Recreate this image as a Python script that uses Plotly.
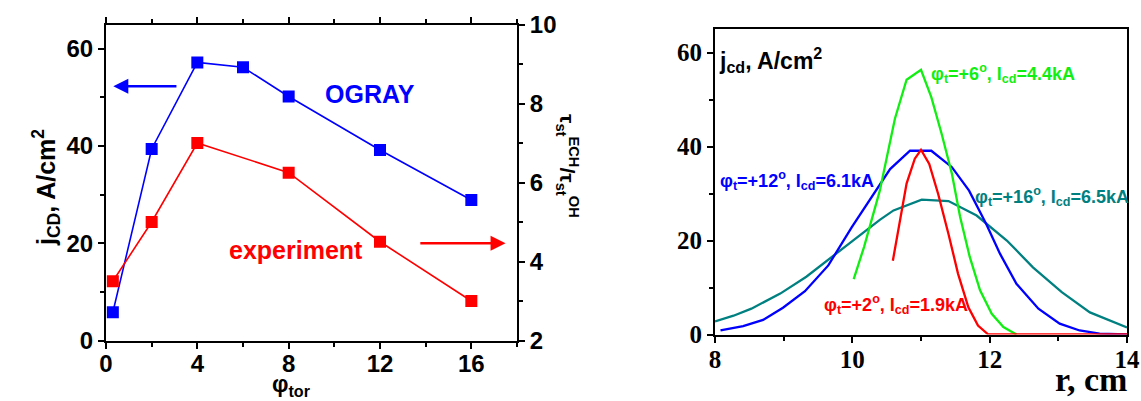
import plotly.graph_objects as go

# ---- left panel data ----
phi_ogray = [0.3, 2, 4, 6, 8, 12, 16]
j_ogray = [5.8, 39.4, 57.2, 56.2, 50.2, 39.2, 28.9]
phi_exp = [0.3, 2, 4, 8, 12, 16]
tau_exp = [3.5, 5.0, 7.0, 6.25, 4.5, 3.0]

# ---- right panel data ----
r_blue = [8.08, 8.41, 8.70, 8.99, 9.31, 9.65, 9.99, 10.26, 10.55, 10.84, 11.15, 11.45, 11.70, 11.95, 12.15, 12.39, 12.71, 13.02, 13.31, 13.60, 13.85, 14.0]
j_blue = [0.9, 1.8, 3.1, 5.7, 9.2, 14.7, 22.8, 28.9, 35.2, 39.1, 39.1, 35.6, 30.6, 23.5, 17.2, 10.8, 5.5, 2.3, 0.85, 0.2, 0.0, 0.0]
r_teal = [8.0, 8.27, 8.53, 8.95, 9.33, 9.70, 10.06, 10.40, 10.60, 11.01, 11.40, 11.81, 12.25, 12.63, 13.05, 13.46, 14.0]
j_teal = [2.8, 4.0, 5.5, 8.7, 12.3, 16.5, 20.7, 24.4, 26.4, 28.7, 28.4, 25.3, 20.0, 14.3, 9.0, 4.7, 1.5]
r_green = [10.02, 10.17, 10.40, 10.62, 10.79, 11.00, 11.15, 11.30, 11.45, 11.57, 11.71, 11.86, 12.03, 12.20, 12.39]
j_green = [11.8, 18.6, 30.6, 45.9, 54.2, 56.3, 50.5, 42.7, 34.2, 25.0, 16.5, 9.4, 4.4, 1.6, 0.0]
r_red = [10.59, 10.79, 10.91, 11.00, 11.12, 11.25, 11.40, 11.54, 11.69, 11.83, 11.98, 14.0]
j_red = [15.7, 32.1, 37.4, 39.3, 36.3, 29.9, 21.4, 12.9, 5.8, 1.9, 0.0, 0.0]

# ---- tick labels ----
r_ticks = [8, 10, 12, 14]
r_ticklabels = ["8", "10", "12", "14"]
j_ticks = [0, 20, 40, 60]
j_ticklabels = ["0", "20", "40", "60"]

BLUE = "#0000FF"
RED = "#FF0000"
GREEN = "#11EE11"
TEAL = "#008080"
SANS = "Arial, Liberation Sans, sans-serif"
SERIF = "Liberation Serif, Times New Roman, serif"

W, H = 1141, 401
def px_x(p):
    return p / W
def px_y(p):
    return 1 - p / H

fig = go.Figure()

fig.add_trace(go.Scatter(x=phi_ogray, y=j_ogray, mode="lines+markers",
                         line=dict(color=BLUE, width=1.6),
                         marker=dict(symbol="square", size=12, color=BLUE),
                         xaxis="x", yaxis="y", showlegend=False))
fig.add_trace(go.Scatter(x=phi_exp, y=tau_exp, mode="lines+markers",
                         line=dict(color=RED, width=1.6),
                         marker=dict(symbol="square", size=12, color=RED),
                         xaxis="x", yaxis="y2", showlegend=False))

for rr, jj, col in [(r_teal, j_teal, TEAL), (r_blue, j_blue, BLUE),
                    (r_green, j_green, GREEN), (r_red, j_red, RED)]:
    fig.add_trace(go.Scatter(x=rr, y=jj, mode="lines",
                             line=dict(color=col, width=2.3),
                             xaxis="x3", yaxis="y3", showlegend=False))

tickfont_sans = dict(family=SANS, size=24, color="black", weight="bold")
tickfont_serif = dict(family=SERIF, size=25, color="black", weight="bold")
common = dict(showgrid=False, zeroline=False, showline=True, linecolor="black",
              linewidth=2, ticks="outside", ticklen=6, tickwidth=2, tickcolor="black",
              automargin=False)
minor_style = dict(ticks="outside", ticklen=4, tickcolor="black", tickwidth=2)

fig.update_layout(
    width=W, height=H,
    margin=dict(l=0, r=0, t=0, b=0, autoexpand=False),
    paper_bgcolor="white", plot_bgcolor="white",
    xaxis=dict(domain=[px_x(106), px_x(517)], range=[0, 18], tickvals=[0, 4, 8, 12, 16],
               mirror="ticks", tickfont=tickfont_sans, ticklabelstandoff=-5,
               minor=dict(dtick=2, tick0=0, **minor_style),
               anchor="y", **common),
    yaxis=dict(domain=[px_y(340.5), px_y(24.5)], range=[0, 65], tickvals=[0, 20, 40, 60],
               tickfont=tickfont_sans,
               minor=dict(dtick=10, tick0=0, **minor_style),
               anchor="x", **common),
    yaxis2=dict(range=[2, 10], tickvals=[2, 4, 6, 8, 10], overlaying="y", side="right",
                tickfont=tickfont_sans, anchor="x",
                minor=dict(dtick=1, tick0=0, **minor_style),
                **common),
    xaxis3=dict(domain=[px_x(715), px_x(1127)], range=[8, 14], tickvals=r_ticks,
                ticktext=["<b>%s</b>" % t for t in r_ticklabels],
                mirror=True, tickfont=tickfont_serif, anchor="y3", ticklabelstandoff=-5,
                minor=dict(dtick=1, tick0=0, **minor_style),
                **common),
    yaxis3=dict(domain=[px_y(334.5), px_y(29)], range=[0, 65], tickvals=j_ticks,
                ticktext=["<b>%s</b>" % t for t in j_ticklabels],
                mirror=True, tickfont=tickfont_serif, anchor="x3",
                minor=dict(dtick=10, tick0=0, **minor_style),
                **common),
)

ann = []
# axis titles (left panel)
ann.append(dict(xref="paper", yref="paper", x=px_x(26), y=px_y(188), text="<b>j<sub>CD</sub>, A/cm<sup>2</sup></b>",
                textangle=-90, showarrow=False, font=dict(family=SANS, size=25, color="black")))
ann.append(dict(xref="paper", yref="paper", x=px_x(270), y=px_y(402), text="<b>φ<sub>tor</sub></b>",
                showarrow=False, font=dict(family=SANS, size=23, color="black")))
ann.append(dict(xref="paper", yref="paper", x=px_x(568), y=px_y(166),
                text="<b>τ<sub>st</sub><sup>ECH</sup>/τ<sub>st</sub><sup>OH</sup></b>",
                textangle=90, showarrow=False, font=dict(family=SANS, size=21, color="black")))
# left panel labels
ann.append(dict(xref="x", yref="y", x=11.56, y=50.8, text="<b>OGRAY</b>", showarrow=False,
                font=dict(family=SANS, size=25, color=BLUE)))
ann.append(dict(xref="x", yref="y", x=8.3, y=18.7, text="<b>experiment</b>", showarrow=False,
                font=dict(family=SANS, size=25, color=RED)))
ann.append(dict(xref="x", yref="y", axref="x", ayref="y", x=0.32, y=52.3, ax=3.15, ay=52.3,
                text="", showarrow=True, arrowhead=2, arrowsize=1.2, arrowwidth=2.5, arrowcolor=BLUE))
ann.append(dict(xref="x", yref="y", axref="x", ayref="y", x=17.5, y=20.0, ax=13.7, ay=20.0,
                text="", showarrow=True, arrowhead=2, arrowsize=1.2, arrowwidth=2.5, arrowcolor=RED))
# right panel labels
ann.append(dict(xref="x3", yref="y3", x=8.03, y=58.5, text="<b>j<sub>cd</sub>, A/cm<sup>2</sup></b>",
                showarrow=False, xanchor="left", font=dict(family=SANS, size=23, color="black")))
ann.append(dict(xref="x3", yref="y3", x=11.12, y=55.5, text="<b>φ<sub>t</sub>=+6<sup>o</sup>, I<sub>cd</sub>=4.4kA</b>",
                showarrow=False, xanchor="left", font=dict(family=SANS, size=18, color=GREEN)))
ann.append(dict(xref="x3", yref="y3", x=8.05, y=32.8, text="<b>φ<sub>t</sub>=+12<sup>o</sup>, I<sub>cd</sub>=6.1kA</b>",
                showarrow=False, xanchor="left", font=dict(family=SANS, size=18, color=BLUE)))
ann.append(dict(xref="x3", yref="y3", x=11.76, y=29.3, text="<b>φ<sub>t</sub>=+16<sup>o</sup>, I<sub>cd</sub>=6.5kA</b>",
                showarrow=False, xanchor="left", font=dict(family=SANS, size=18, color=TEAL)))
ann.append(dict(xref="x3", yref="y3", x=9.56, y=6.3, text="<b>φ<sub>t</sub>=+2<sup>o</sup>, I<sub>cd</sub>=1.9kA</b>",
                showarrow=False, xanchor="left", font=dict(family=SANS, size=18, color=RED)))
ann.append(dict(xref="paper", yref="paper", x=px_x(1129), y=px_y(400), text="<b>r, cm</b>",
                showarrow=False, xanchor="right", font=dict(family=SERIF, size=34, color="black")))

fig.update_layout(annotations=ann)
fig.write_html("out.html", config={"displayModeBar": False},
               post_script="document.body.style.margin='0';document.body.style.overflow='hidden';")
